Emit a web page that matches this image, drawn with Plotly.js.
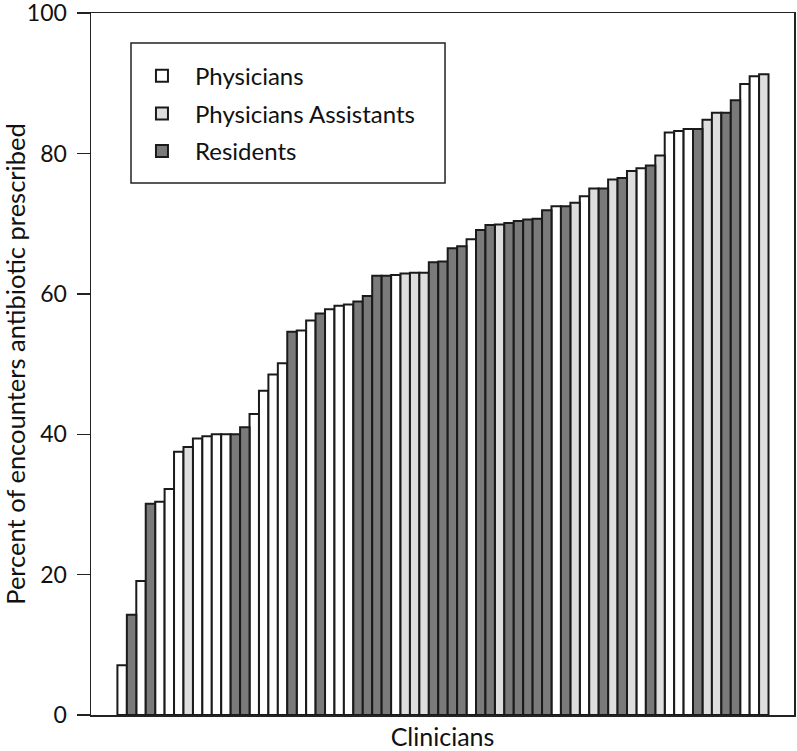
<!DOCTYPE html>
<html>
<head>
<meta charset="utf-8">
<script src="https://cdn.plot.ly/plotly-3.0.1.min.js"></script>
<style>html,body{margin:0;padding:0;background:#fff;}#chart{width:797px;height:751px;}</style>
</head>
<body>
<div id="chart"></div>
<script>
// Clinicians ranked by percent of encounters with antibiotic prescribed
const percent = [7.1,14.3,19.1,30.1,30.4,32.2,37.5,38.2,39.4,39.7,40.0,40.0,40.0,41.0,42.9,46.2,48.5,50.1,
  54.6,54.8,56.2,57.2,57.8,58.3,58.5,58.9,59.7,62.6,62.6,62.7,62.9,63.0,63.0,64.5,64.6,66.5,66.8,67.8,
  69.1,69.8,69.9,70.1,70.4,70.6,70.7,71.9,72.5,72.5,73.0,73.9,75.0,75.0,76.3,76.5,77.5,77.9,78.3,79.7,
  83.0,83.2,83.5,83.5,84.8,85.8,85.8,87.6,89.9,91.0,91.3];
const role = ["P","R","P","R","P","P","P","A","P","P","P","P","R","R","P","P","P","P","R","P","P","R","P","P","P",
  "R","R","R","R","P","A","A","A","R","R","R","R","P","R","R","A","R","R","R","R","R","P","R","A","P","A","R","A",
  "R","A","P","R","A","P","P","P","R","A","A","R","R","P","P","A"];
const groupCodes = ["P","A","R"];
const groupNames = ["Physicians","Physicians Assistants","Residents"];
const groupColors = ["#ffffff","#dedede","#7a7a7a"];
const yTicks = [0,20,40,60,80,100];

const FONT = "Lato, 'Open Sans', sans-serif";
const traces = groupCodes.map((code, gi) => {
  const xs = [], ys = [];
  percent.forEach((v, i) => { if (role[i] === code) { xs.push(i); ys.push(v); } });
  return {
    type: "bar", x: xs, y: ys, name: groupNames[gi], width: 1,
    legendgroup: code,
    marker: {color: groupColors[gi], line: {color: "#1a1a1a", width: 2}},
    hoverinfo: "y"
  };
});

const layout = {
  width: 797, height: 751,
  margin: {l: 91, r: 3, t: 13, b: 36},
  paper_bgcolor: "#fff", plot_bgcolor: "#fff",
  font: {family: FONT, color: "#111", size: 24},
  barmode: "overlay", bargap: 0,
  showlegend: true,
  legend: {
    x: 0.054, y: 0.9422, xanchor: "left", yanchor: "top",
    bgcolor: "rgba(0,0,0,0)", borderwidth: 0,
    font: {family: FONT, size: 24, color: "#111"},
    tracegroupgap: 3.5, itemwidth: 56, traceorder: "grouped"
  },
  // legend frame
  shapes: [{
    type: "rect", xref: "paper", yref: "paper",
    x0: 0.0569, x1: 0.5036, y0: 0.7578, y1: 0.9573,
    line: {color: "#222", width: 1.5}, fillcolor: "rgba(0,0,0,0)", layer: "above"
  }],
  xaxis: {
    range: [-3.3, 71.2], showticklabels: false, ticks: "", showgrid: false, zeroline: false,
    showline: true, mirror: true, linecolor: "#222", linewidth: 1.5,
    title: {text: "Clinicians", font: {family: FONT, size: 25, color: "#111"}, standoff: 18}
  },
  yaxis: {
    range: [0, 100.02], tickvals: yTicks, ticktext: yTicks.map(String),
    ticks: "outside", ticklen: 13, tickwidth: 1.5, ticklabeloverflow: "allow", ticklabelstandoff: 5,
    tickcolor: "#222", showgrid: false, zeroline: false,
    showline: true, mirror: true, linecolor: "#222", linewidth: 1.5,
    tickfont: {family: FONT, size: 23, color: "#111"},
    title: {text: "Percent of encounters antibiotic prescribed", font: {family: FONT, size: 25.5, color: "#111"}, standoff: 0}
  }
};
Plotly.newPlot("chart", traces, layout, {displayModeBar: false, staticPlot: true});
</script>
</body>
</html>
